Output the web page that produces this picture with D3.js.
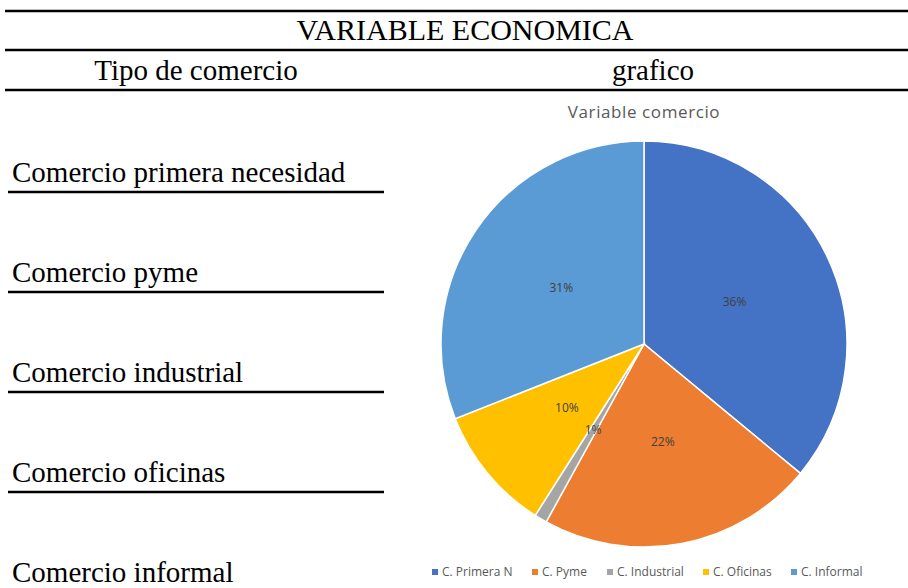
<!DOCTYPE html>
<html lang="es">
<head>
<meta charset="UTF-8">
<title>Variable economica</title>
<script src="https://d3js.org/d3.v7.min.js"></script>
<style>
  body { margin: 0; background: #fff; }
  .serif { font-family: "Liberation Serif", "Times New Roman", serif; fill: #000; }
  .sans { font-family: "Open Sans", "Liberation Sans", sans-serif; }
</style>
</head>
<body>
<svg width="908" height="588"></svg>
<script>
// table text
const tableTitle = "VARIABLE ECONOMICA";
const colHeaders = ["Tipo de comercio", "grafico"];
const rowLabels = ["Comercio primera necesidad", "Comercio pyme", "Comercio industrial", "Comercio oficinas", "Comercio informal"];

// pie data
const chartTitle = "Variable comercio";
const categories = ["C. Primera N", "C. Pyme", "C. Industrial", "C. Oficinas", "C. Informal"];
const shares = [36, 22, 1, 10, 31];
const colors = ["#4472C4", "#ED7D31", "#A5A5A5", "#FFC000", "#5B9BD5"];

const svg = d3.select("svg");

// horizontal rules of the table
[11, 50, 90].forEach(y => {
  svg.append("line").attr("x1", 5).attr("x2", 908).attr("y1", y).attr("y2", y)
    .attr("stroke", "#000").attr("stroke-width", 2.5);
});

svg.append("text").attr("class", "serif").attr("x", 465).attr("y", 40)
  .attr("text-anchor", "middle").attr("font-size", 30).text(tableTitle);
svg.append("text").attr("class", "serif").attr("x", 196).attr("y", 80)
  .attr("text-anchor", "middle").attr("font-size", 29).text(colHeaders[0]);
svg.append("text").attr("class", "serif").attr("x", 653).attr("y", 80)
  .attr("text-anchor", "middle").attr("font-size", 29).text(colHeaders[1]);

// row labels with underlines
const rowY = d3.scalePoint().domain(rowLabels).range([182, 582]);
rowLabels.forEach((lab, i) => {
  const y = rowY(lab);
  svg.append("text").attr("class", "serif").attr("x", 12).attr("y", y)
    .attr("font-size", 29).text(lab);
  if (i < rowLabels.length - 1) {
    svg.append("line").attr("x1", 8).attr("x2", 384).attr("y1", y + 10).attr("y2", y + 10)
      .attr("stroke", "#000").attr("stroke-width", 2.5);
  }
});

// pie chart
const cx = 644, cy = 344, r = 203;
const color = d3.scaleOrdinal().domain(categories).range(colors);
const pie = d3.pie().sort(null).value(d => d.v);
const arcs = pie(categories.map((c, i) => ({ c, v: shares[i] })));
const arc = d3.arc().innerRadius(0).outerRadius(r);
const labelArc = d3.arc().innerRadius(100).outerRadius(100);

svg.append("text").attr("class", "sans").attr("x", cx).attr("y", 118)
  .attr("text-anchor", "middle").attr("font-size", 17).attr("letter-spacing", 0.6)
  .attr("fill", "#595959").text(chartTitle);

const g = svg.append("g").attr("transform", `translate(${cx},${cy})`);
g.selectAll("path").data(arcs).enter().append("path")
  .attr("d", arc)
  .attr("fill", d => color(d.data.c))
  .attr("stroke", "#fff").attr("stroke-width", 1.5);

g.selectAll("text.lbl").data(arcs).enter().append("text")
  .attr("class", "lbl sans")
  .attr("transform", d => `translate(${labelArc.centroid(d)})`)
  .attr("text-anchor", "middle").attr("dy", "0.35em")
  .attr("font-size", 12).attr("fill", "#404040")
  .text(d => d.data.v + "%");

// legend
const legendX = [432, 532, 607, 703, 791];
const legend = svg.append("g").attr("transform", "translate(0,572)");
categories.forEach((c, i) => {
  const item = legend.append("g").attr("transform", `translate(${legendX[i]},0)`);
  item.append("rect").attr("x", 0).attr("y", -3).attr("width", 6).attr("height", 6).attr("fill", color(c));
  item.append("text").attr("class", "sans").attr("x", 10).attr("y", 0).attr("dy", "0.35em")
    .attr("font-size", 12).attr("fill", "#595959").text(c);
});
</script>
</body>
</html>
